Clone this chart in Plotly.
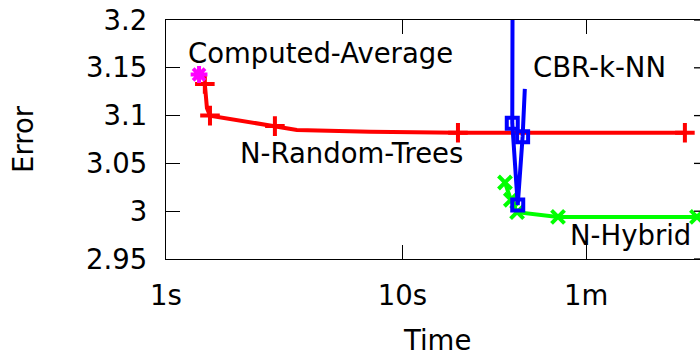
import plotly.graph_objects as go

# ---- data ----
avg_time = [1.38]
avg_error = [3.143]

trees_time = [1.46, 1.49, 1.535, 2.89, 3.58, 7.3, 17.2, 157]
trees_error = [3.133, 3.108, 3.100, 3.089, 3.085, 3.083, 3.082, 3.082]
trees_marked = [True, False, True, True, False, False, True, True]

knn_time = [29.3, 29.2, 30.8, 32.3, 33.0]
knn_error = [3.25, 3.092, 3.0065, 3.078, 3.128]
knn_marked = [False, True, True, True, False]

hybrid_time = [27.2, 28.8, 30.6, 45.6, 176.6]
hybrid_error = [3.030, 3.012, 2.999, 2.994, 2.994]
hybrid_marked = [True, True, True, True, True]

x_tickvals = [1, 10, 60]
x_ticktext = ["1s", "10s", "1m"]
y_tickvals = [2.95, 3.0, 3.05, 3.1, 3.15, 3.2]
y_ticktext = ["2.95", "3", "3.05", "3.1", "3.15", "3.2"]

FONT = "DejaVu Sans"
FS = 27.5
W, H = 700, 354
ML, MR, MT, MB = 166, 0, 20, 95
PW, PH = W - ML - MR, H - MT - MB
XMAX_LOG = PW / 236.3


def px_x(px):
    return (px - ML) / PW


def px_y(py):
    return (H - MB - py) / PH


def sel(vals, mask):
    return [v for v, m in zip(vals, mask) if m]


def marker_style(symbol, size, color):
    return dict(symbol=symbol, size=size, color=color, line=dict(color=color, width=4))


fig = go.Figure()

# N-Random-Trees
fig.add_trace(go.Scatter(x=trees_time, y=trees_error, mode="lines",
                         line=dict(color="#ff0000", width=4), showlegend=False))
fig.add_trace(go.Scatter(x=sel(trees_time, trees_marked), y=sel(trees_error, trees_marked),
                         mode="markers", showlegend=False,
                         marker=marker_style("cross-thin-open", 14, "#ff0000")))
# N-Hybrid
fig.add_trace(go.Scatter(x=hybrid_time, y=hybrid_error, mode="lines",
                         line=dict(color="#00ff00", width=4), showlegend=False))
fig.add_trace(go.Scatter(x=sel(hybrid_time, hybrid_marked), y=sel(hybrid_error, hybrid_marked),
                         mode="markers", showlegend=False,
                         marker=marker_style("x-thin-open", 13, "#00ff00")))
# CBR-k-NN
fig.add_trace(go.Scatter(x=knn_time, y=knn_error, mode="lines",
                         line=dict(color="#0000ff", width=4), showlegend=False))
fig.add_trace(go.Scatter(x=sel(knn_time, knn_marked), y=sel(knn_error, knn_marked),
                         mode="markers", showlegend=False,
                         marker=marker_style("square-open", 11, "#0000ff")))
# Computed-Average
fig.add_trace(go.Scatter(x=avg_time, y=avg_error, mode="markers", showlegend=False,
                         marker=marker_style("asterisk-open", 14, "#ff00ff")))

labels = [
    ("Computed-Average", 186, 53),
    ("CBR-k-NN", 531, 67),
    ("N-Random-Trees", 238, 153),
    ("N-Hybrid", 568, 234.5),
]
annotations = []
for text, lx, ly in labels:
    annotations.append(dict(text=text, xref="paper", yref="paper", x=px_x(lx), y=px_y(ly),
                            xanchor="left", yanchor="middle", showarrow=False,
                            font=dict(family=FONT, size=FS, color="black")))
annotations.append(dict(text="Error", xref="paper", yref="paper", x=px_x(23), y=px_y(139),
                        xanchor="center", yanchor="middle", textangle=-90, showarrow=False,
                        font=dict(family=FONT, size=FS, color="black")))
annotations.append(dict(text="Time", xref="paper", yref="paper", x=px_x(437), y=px_y(340),
                        xanchor="center", yanchor="middle", showarrow=False,
                        font=dict(family=FONT, size=FS, color="black")))

# mirrored y ticks on the (off-canvas) right border
shapes = []
for v in y_tickvals:
    shapes.append(dict(type="line", xref="paper", yref="y", x0=px_x(694), x1=1.0, y0=v, y1=v,
                       line=dict(color="black", width=1.3)))

fig.update_layout(
    width=W, height=H,
    margin=dict(l=ML, r=MR, t=MT, b=MB, pad=0),
    paper_bgcolor="white", plot_bgcolor="white",
    font=dict(family=FONT, size=FS, color="black"),
    annotations=annotations, shapes=shapes, showlegend=False,
    xaxis=dict(type="log", range=[0, XMAX_LOG], tickvals=x_tickvals, ticktext=x_ticktext,
               showgrid=False, zeroline=False, showline=True, linecolor="black", linewidth=1.3,
               mirror="ticks", ticks="inside", ticklen=14, tickwidth=1.3, tickcolor="black",
               ticklabelstandoff=12, tickfont=dict(family=FONT, size=FS, color="black")),
    yaxis=dict(range=[2.95, 3.2], tickvals=y_tickvals, ticktext=y_ticktext,
               showgrid=False, zeroline=False, showline=True, linecolor="black", linewidth=1.3,
               mirror=False, ticks="inside", ticklen=14, tickwidth=1.3, tickcolor="black",
               ticklabelstandoff=12, tickfont=dict(family=FONT, size=FS, color="black")),
)

fig.write_html("out.html", config={"displayModeBar": False},
               post_script="document.body.style.margin='0px';document.body.style.overflow='hidden';")
